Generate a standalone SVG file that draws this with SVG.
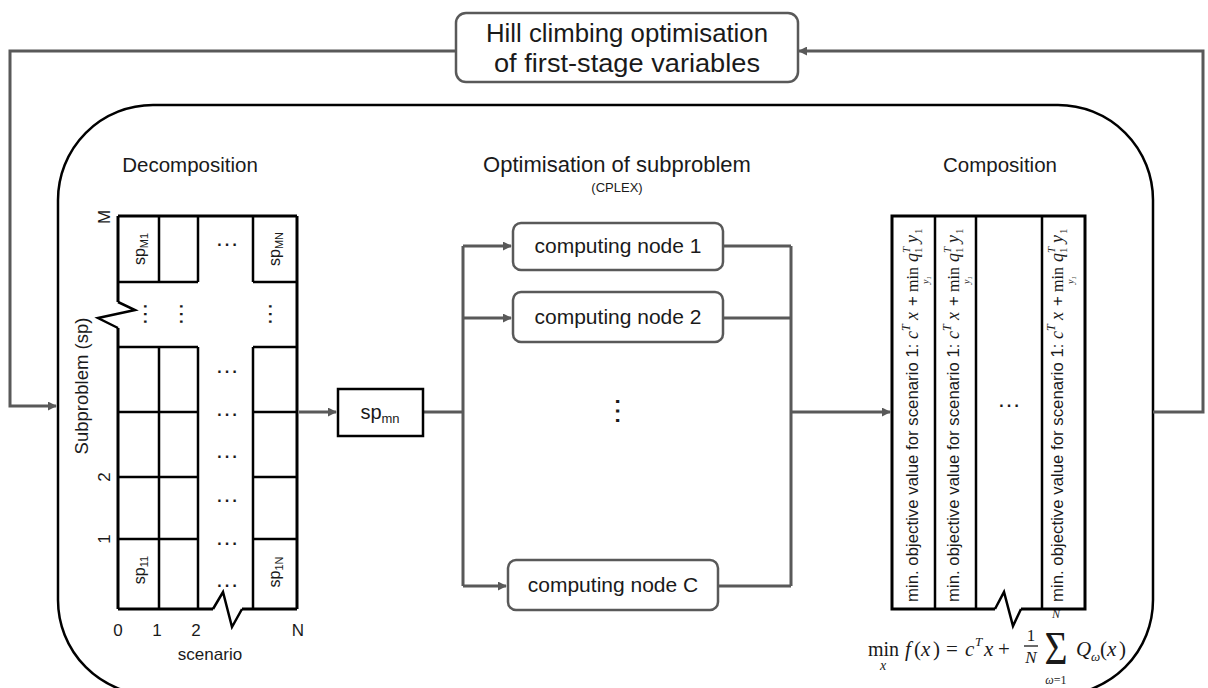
<svg xmlns="http://www.w3.org/2000/svg" width="1208" height="688" viewBox="0 0 1208 688">
<style>
text{font-family:"Liberation Sans",Arial,sans-serif;fill:#1a1a1a}
.h{font-size:20.5px;text-anchor:middle}
.conn{stroke:#595959;stroke-width:3;fill:none}
.g{stroke:#000;stroke-width:2.5;fill:none}
.go{stroke:#000;stroke-width:3;fill:none}
.node{fill:#fff;stroke:#595959;stroke-width:2.5}
.nt{font-size:21px;text-anchor:middle}
.lab{font-size:17px;text-anchor:middle}
.sp{font-size:16px;text-anchor:middle}
.dots{font-size:24px;text-anchor:middle}
.ct{font-size:16.8px}
.m{font-family:"Liberation Serif","Times New Roman",serif}
.mi{font-family:"Liberation Serif","Times New Roman",serif;font-style:italic}
</style>
<defs>
<marker id="ah" viewBox="0 0 10 10" refX="9" refY="5" markerWidth="9" markerHeight="9" markerUnits="userSpaceOnUse" orient="auto"><path d="M0,0 L10,5 L0,10 z" fill="#595959"/></marker>
</defs>

<g id="main-frame">
<rect x="58" y="105" width="1095" height="590" rx="95" ry="95" fill="none" stroke="#000" stroke-width="2.5"/>
</g>

<g id="connectors">
<polyline class="conn" points="456,51 10,51 10,406 56,406" marker-end="url(#ah)"/>
<polyline class="conn" points="1153,412 1203,412 1203,51 799,51" marker-end="url(#ah)"/>
<line class="conn" x1="299" y1="412" x2="336" y2="412" marker-end="url(#ah)"/>
<line class="conn" x1="424" y1="412" x2="463" y2="412"/>
<line class="conn" x1="463" y1="246" x2="463" y2="586"/>
<line class="conn" x1="463" y1="246" x2="511" y2="246" marker-end="url(#ah)"/>
<line class="conn" x1="463" y1="318" x2="511" y2="318" marker-end="url(#ah)"/>
<line class="conn" x1="463" y1="586" x2="506" y2="586" marker-end="url(#ah)"/>
<line class="conn" x1="723" y1="246" x2="791" y2="246"/>
<line class="conn" x1="723" y1="318" x2="791" y2="318"/>
<line class="conn" x1="718" y1="586" x2="791" y2="586"/>
<line class="conn" x1="791" y1="246" x2="791" y2="586"/>
<line class="conn" x1="791" y1="412" x2="890" y2="412" marker-end="url(#ah)"/>
</g>

<g id="hill-climbing">
<rect class="node" x="456" y="13" width="342" height="69" rx="10"/>
<text x="627" y="42" style="font-size:25px;text-anchor:middle" textLength="282" lengthAdjust="spacingAndGlyphs">Hill climbing optimisation</text>
<text x="627" y="72" style="font-size:25px;text-anchor:middle" textLength="266" lengthAdjust="spacingAndGlyphs">of  first-stage variables</text>
</g>

<g id="headings">
<text class="h" x="190" y="172">Decomposition</text>
<text class="h" x="617" y="172" style="font-size:22px">Optimisation of subproblem</text>
<text x="617" y="192" style="font-size:13px;text-anchor:middle">(CPLEX)</text>
<text class="h" x="1000" y="172">Composition</text>
</g>

<g id="decomposition-grid">
<line class="go" x1="118" y1="216" x2="297" y2="216"/>
<line class="go" x1="297" y1="216" x2="297" y2="609"/>
<line class="go" x1="118" y1="216" x2="118" y2="302"/>
<line class="go" x1="118" y1="328" x2="118" y2="609"/>
<polyline class="g" points="118,302 135,310 98,318 118,328"/>
<line class="go" x1="118" y1="609" x2="213" y2="609"/>
<line class="go" x1="242" y1="609" x2="297" y2="609"/>
<polyline class="g" points="213,609 223,592 232,627 242,609"/>
<path class="g" d="M159,216V282M198,216V282M253,216V282M159,347V609M198,347V609M253,347V609"/>
<path class="g" d="M118,282H198M253,282H297M118,347H198M253,347H297M118,412H198M253,412H297M118,477H198M253,477H297M118,539H198M253,539H297"/>
<text class="sp" transform="translate(145,249) rotate(-90)">sp<tspan font-size="11" dy="3">M1</tspan></text>
<text class="sp" transform="translate(280,249) rotate(-90)">sp<tspan font-size="11" dy="3">MN</tspan></text>
<text class="sp" transform="translate(145,570) rotate(-90)">sp<tspan font-size="11" dy="3">11</tspan></text>
<text class="sp" transform="translate(280,572) rotate(-90)">sp<tspan font-size="11" dy="3">1N</tspan></text>
<text class="dots" x="227" y="246">…</text>
<text class="dots" x="227" y="373">…</text>
<text class="dots" x="227" y="416">…</text>
<text class="dots" x="227" y="458">…</text>
<text class="dots" x="227" y="502">…</text>
<text class="dots" x="227" y="545">…</text>
<text class="dots" x="227" y="587">…</text>
<text class="dots" transform="translate(144,314) rotate(90)">…</text>
<text class="dots" transform="translate(180,314) rotate(90)">…</text>
<text class="dots" transform="translate(269,314) rotate(90)">…</text>
<text class="lab" transform="translate(110,217) rotate(-90)">M</text>
<text class="lab" transform="translate(110,477) rotate(-90)">2</text>
<text class="lab" transform="translate(110,539) rotate(-90)">1</text>
<text transform="translate(88,386) rotate(-90)" style="font-size:18.5px;text-anchor:middle">Subproblem (sp)</text>
<text class="lab" x="118" y="636">0</text>
<text class="lab" x="157" y="636">1</text>
<text class="lab" x="196" y="636">2</text>
<text class="lab" x="298" y="636">N</text>
<text class="lab" x="210" y="660">scenario</text>
</g>

<g id="sp-mn">
<rect x="338" y="389" width="85" height="47" fill="#fff" stroke="#000" stroke-width="2.5"/>
<text x="380" y="419" style="font-size:20px;text-anchor:middle">sp<tspan font-size="13" dy="4">mn</tspan></text>
</g>

<g id="node-1">
<rect class="node" x="513" y="223" width="210" height="47" rx="8"/>
<text class="nt" x="618" y="253">computing node 1</text>
</g>
<g id="node-2">
<rect class="node" x="513" y="292" width="210" height="50" rx="8"/>
<text class="nt" x="618" y="324">computing node 2</text>
</g>
<g id="node-dots">
<text transform="translate(616,411) rotate(90)" style="font-size:30px;text-anchor:middle">…</text>
</g>
<g id="node-C">
<rect class="node" x="508" y="560" width="210" height="50" rx="8"/>
<text class="nt" x="613" y="592">computing node C</text>
</g>

<g id="composition">
<path class="go" d="M995,609H892V216H1085V609H1021"/>
<polyline class="g" points="995,609 1004,592 1013,626 1021,609"/>
<path class="g" d="M935,216V609M976,216V609M1042,216V609"/>
<text class="dots" x="1009" y="407">…</text>
<g transform="translate(918,602) rotate(-90)">
<text class="ct" x="0" y="0">min. objective value for scenario 1:</text>
<text class="mi" x="263" y="0" font-size="18">c</text><text class="mi" x="271" y="-8" font-size="12">T</text>
<text class="mi" x="282" y="0" font-size="18">x</text>
<text class="ct" x="296" y="0">+</text>
<text class="m" x="310" y="0" font-size="16">min</text><text class="mi" x="322" y="11" font-size="10" text-anchor="middle">y<tspan font-size="7" dy="2">1</tspan></text>
<text class="mi" x="340" y="0" font-size="18">q</text><text class="mi" x="349" y="-8" font-size="11">T</text><text class="m" x="349" y="4" font-size="11">1</text>
<text class="mi" x="359" y="0" font-size="18">y</text><text class="m" x="368" y="4" font-size="11">1</text>
</g>
<g transform="translate(959,602) rotate(-90)">
<text class="ct" x="0" y="0">min. objective value for scenario 1:</text>
<text class="mi" x="263" y="0" font-size="18">c</text><text class="mi" x="271" y="-8" font-size="12">T</text>
<text class="mi" x="282" y="0" font-size="18">x</text>
<text class="ct" x="296" y="0">+</text>
<text class="m" x="310" y="0" font-size="16">min</text><text class="mi" x="322" y="11" font-size="10" text-anchor="middle">y<tspan font-size="7" dy="2">1</tspan></text>
<text class="mi" x="340" y="0" font-size="18">q</text><text class="mi" x="349" y="-8" font-size="11">T</text><text class="m" x="349" y="4" font-size="11">1</text>
<text class="mi" x="359" y="0" font-size="18">y</text><text class="m" x="368" y="4" font-size="11">1</text>
</g>
<g transform="translate(1063,602) rotate(-90)">
<text class="ct" x="0" y="0">min. objective value for scenario 1:</text>
<text class="mi" x="263" y="0" font-size="18">c</text><text class="mi" x="271" y="-8" font-size="12">T</text>
<text class="mi" x="282" y="0" font-size="18">x</text>
<text class="ct" x="296" y="0">+</text>
<text class="m" x="310" y="0" font-size="16">min</text><text class="mi" x="322" y="11" font-size="10" text-anchor="middle">y<tspan font-size="7" dy="2">1</tspan></text>
<text class="mi" x="340" y="0" font-size="18">q</text><text class="mi" x="349" y="-8" font-size="11">T</text><text class="m" x="349" y="4" font-size="11">1</text>
<text class="mi" x="359" y="0" font-size="18">y</text><text class="m" x="368" y="4" font-size="11">1</text>
</g>
</g>

<g id="formula">
<text class="m" x="868" y="656" font-size="20">min</text>
<text class="mi" x="883" y="670" font-size="14" text-anchor="middle">x</text>
<text class="mi" x="905" y="656" font-size="21">f</text>
<text class="m" x="914" y="656" font-size="21">(</text>
<text class="mi" x="921" y="656" font-size="21">x</text>
<text class="m" x="933" y="656" font-size="21">)</text>
<text class="m" x="946" y="656" font-size="21">=</text>
<text class="mi" x="965" y="656" font-size="21">c</text>
<text class="mi" x="975" y="646" font-size="13">T</text>
<text class="mi" x="984" y="656" font-size="21">x</text>
<text class="m" x="998" y="656" font-size="21">+</text>
<text class="m" x="1031" y="641" font-size="17" text-anchor="middle">1</text>
<line x1="1024" y1="646" x2="1038" y2="646" stroke="#1a1a1a" stroke-width="1.3"/>
<text class="mi" x="1031" y="663" font-size="17" text-anchor="middle">N</text>
<text class="m" transform="translate(1056,664) scale(1.1,1.3)" font-size="36" text-anchor="middle">Σ</text>
<text class="mi" x="1056" y="618" font-size="12" text-anchor="middle">N</text>
<text class="mi" x="1056" y="684" font-size="12" text-anchor="middle">ω<tspan font-style="normal">=1</tspan></text>
<text class="mi" x="1076" y="656" font-size="21">Q</text>
<text class="mi" x="1091" y="661" font-size="13">ω</text>
<text class="m" x="1100" y="656" font-size="21">(</text>
<text class="mi" x="1107" y="656" font-size="21">x</text>
<text class="m" x="1119" y="656" font-size="21">)</text>
</g>
</svg>
